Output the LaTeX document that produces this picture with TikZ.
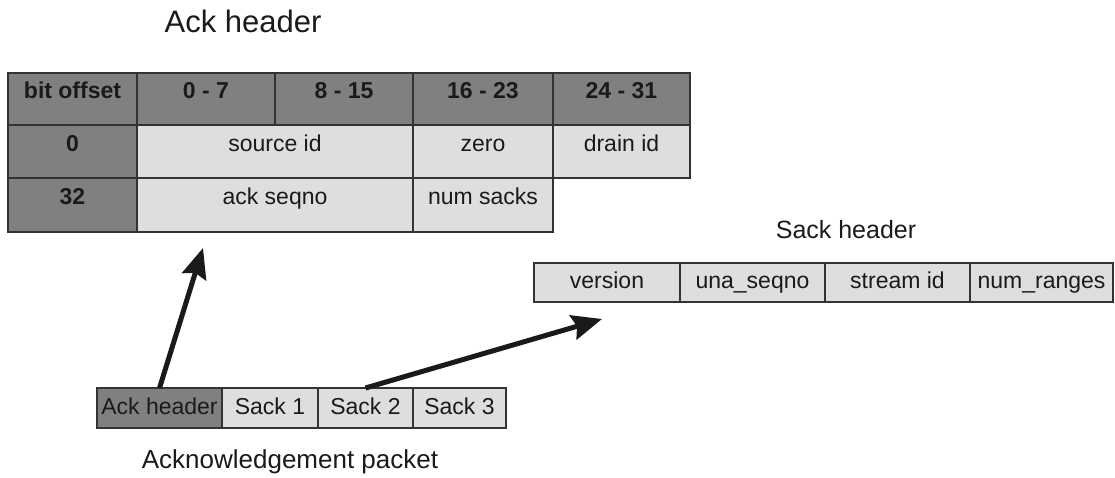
\documentclass[tikz,border=0pt]{standalone}
\usepackage{fontspec}
\setmainfont{Liberation Sans}
\usetikzlibrary{arrows.meta}
\definecolor{hdrgray}{HTML}{808080}
\definecolor{cellgray}{HTML}{DEDEDE}
\definecolor{rulegray}{HTML}{333333}
\definecolor{inkblack}{HTML}{1A1A1A}
\begin{document}
\begin{tikzpicture}[x=1pt,y=-1pt,
  cellbase/.style={draw=rulegray, line width=1.2pt, anchor=north west,
    inner sep=0pt, outer sep=0pt, text=inkblack,
    font=\fontsize{23}{27}\selectfont},
  darkcell/.style={cellbase, fill=hdrgray},
  lightcell/.style={cellbase, fill=cellgray},
  boldcell/.style={darkcell, font=\fontsize{23}{27}\selectfont\bfseries},
  % table rows: text baseline sits at the cell's vertical centre
  toptext/.style={text height=16pt, text depth=16pt},
  % single-line strips: text centred on the cell
  striptext/.style={text height=16.5pt, text depth=4.5pt},
  cellsize/.style 2 args={minimum width=#1, minimum height=#2},
  caption/.style={anchor=base, text=inkblack},
  pointer/.style={line width=5pt, draw=inkblack,
    -{Stealth[length=30pt,width=25pt,inset=4pt]}}
]
\useasboundingbox (0,0) rectangle (1115,478);

% ---- Ack header layout ----
\node[caption, font=\fontsize{31}{36}\selectfont] (acktitle) at (243,33) {Ack header};

\node[boldcell, toptext, cellsize={129pt}{52pt}] (bo)    at (8,73)   {bit offset};
\node[boldcell, toptext, cellsize={138pt}{52pt}] (c07)   at (137,73) {0 - 7};
\node[boldcell, toptext, cellsize={138pt}{52pt}] (c815)  at (275,73) {8 - 15};
\node[boldcell, toptext, cellsize={140pt}{52pt}] (c1623) at (413,73) {16 - 23};
\node[boldcell, toptext, cellsize={137pt}{52pt}] (c2431) at (553,73) {24 - 31};

\node[boldcell,  toptext, cellsize={129pt}{53pt}] (off0)  at (8,125)   {0};
\node[lightcell, toptext, cellsize={276pt}{53pt}] (srcid) at (137,125) {source id};
\node[lightcell, toptext, cellsize={140pt}{53pt}] (zero)  at (413,125) {zero};
\node[lightcell, toptext, cellsize={137pt}{53pt}] (drain) at (553,125) {drain id};

\node[boldcell,  toptext, cellsize={129pt}{54pt}] (off32)  at (8,178)   {32};
\node[lightcell, toptext, cellsize={276pt}{54pt}] (seqno)  at (137,178) {ack seqno};
\node[lightcell, toptext, cellsize={140pt}{54pt}] (nsacks) at (413,178) {num sacks};

% ---- Sack header layout ----
\node[caption, font=\fontsize{25}{30}\selectfont] (sacktitle) at (846,238) {Sack header};

\node[lightcell, striptext, cellsize={146pt}{39pt}] (ver) at (534,263) {version};
\node[lightcell, striptext, cellsize={145pt}{39pt}] (una) at (680,263) {una\_seqno};
\node[lightcell, striptext, cellsize={145pt}{39pt}] (sid) at (825,263) {stream id};
\node[lightcell, striptext, cellsize={143pt}{39pt}] (nr)  at (970,263) {num\_ranges};

% ---- Acknowledgement packet ----
\node[darkcell,  striptext, cellsize={125pt}{40pt}] (pkA) at (97,388)  {Ack header};
\node[lightcell, striptext, cellsize={96pt}{40pt}]  (pk1) at (222,388) {Sack 1};
\node[lightcell, striptext, cellsize={95pt}{40pt}]  (pk2) at (318,388) {Sack 2};
\node[lightcell, striptext, cellsize={93pt}{40pt}]  (pk3) at (413,388) {Sack 3};

\node[caption, font=\fontsize{26}{31}\selectfont] (pkttitle) at (290,468) {Acknowledgement packet};

% ---- pointers from the packet to the header layouts ----
\coordinate (tipA) at (203,248);
\coordinate (tipB) at (602,319);
\draw[pointer] (pkA.north) -- (tipA);
\draw[pointer] (pk2.north) -- (tipB);
\end{tikzpicture}
\end{document}
